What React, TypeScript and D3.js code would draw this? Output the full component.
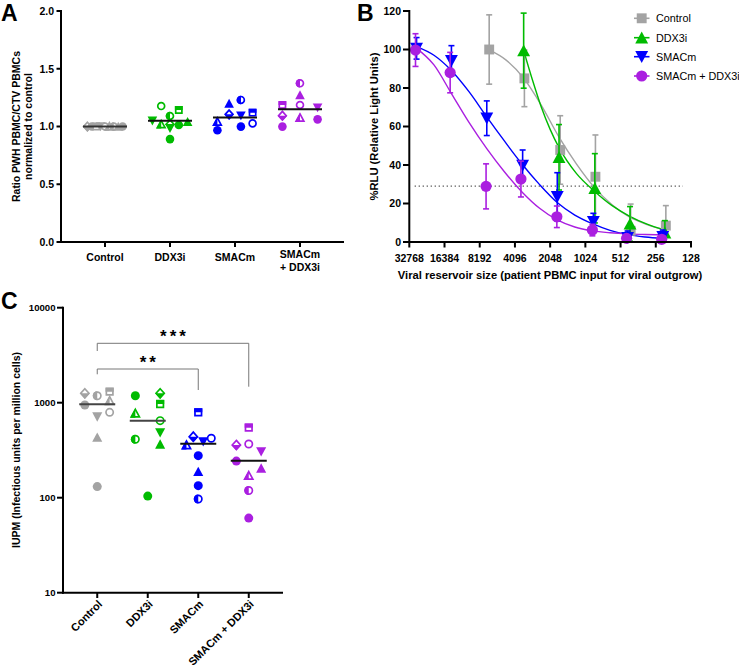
import React from "react";
import * as d3 from "d3";

const FONT = "'Liberation Sans', Arial, Helvetica, sans-serif";

const GRAY = "#a3a3a3";
const GREEN = "#00bb00";
const BLUE = "#0000ff";
const PURPLE = "#aa1fe0";
const GROUP_COLORS = [GRAY, GREEN, BLUE, PURPLE];

// ---------------- Panel A data ----------------
const groupsA = ["Control", "DDX3i", "SMACm", "SMACm\n+ DDX3i"];
const ticksA = [0, 0.5, 1.0, 1.5, 2.0];
// [value, marker kind, column]
type P = [number, string, number];
const ratioControl: P[] = [[1.0, "hd", -2], [1.0, "fc", -1.5], [1.0, "hs", -1], [1.0, "fv", -0.5], [1.0, "oc", 0], [1.0, "ht", 0.5], [1.0, "hc", 1], [1.0, "ft", 1.5], [1.0, "fc", 2]];
const ratioDDX3i: P[] = [[1.177, "oc", -1], [1.091, "hc", 0], [1.143, "hs", 1], [1.05, "fv", -2], [1.019, "ht", -1], [1.02, "hd", 0], [0.985, "fv", 0], [1.013, "fc", 1], [1.042, "ft", 2], [0.891, "fc", 0]];
const ratioSMACm: P[] = [[1.2, "ft", -0.67], [1.23, "hc", 0.67], [1.12, "hs", 2], [1.105, "hd", -0.67], [1.094, "fv", 0.67], [1.042, "ht", -2], [0.967, "fc", -2], [0.999, "fc", 0.67], [1.027, "oc", 2]];
const ratioCombo: P[] = [[1.374, "hc", 0], [1.273, "ft", 0], [1.186, "hs", -2], [1.186, "oc", 0], [1.163, "fv", 2], [1.094, "hd", -2], [1.076, "ht", 0], [0.999, "fc", -2], [1.062, "fc", 2]];
const ratioMedians = [1.0, 1.05, 1.079, 1.149];

// ---------------- Panel B data ----------------
const seriesB = ["Control", "DDX3i", "SMACm", "SMACm + DDX3i"];
const inputTicks = [32768, 16384, 8192, 4096, 2048, 1024, 512, 256, 128];
const rluTicks = [0, 20, 40, 60, 80, 100, 120];
const ctlInput = [6800, 3400, 1680, 840, 420, 210];
const ctlRLU = [100, 85, 47.8, 33.9, 5.8, 8.5];
const ctlSEM = [18, 14.7, 17.8, 21.7, 13.9, 10.4];
const ddxInput = [3450, 1720, 850, 425, 214];
const ddxRLU = [99.4, 44, 27.9, 9.4, 4.8];
const ddxSEM = [19.5, 17, 18, 9, 6.3];
const smacInput = [28400, 14300, 7130, 3520, 1780, 875, 446, 223];
const smacRLU = [100.6, 94.2, 64.3, 39.8, 23.5, 10.6, 2.2, 2.8];
const smacSEM = [5.6, 7.8, 9, 8, 12.5, 4.3, 3.5, 3.4];
const comboInput = [29000, 14660, 7230, 3640, 1795, 892, 455, 228];
const comboRLU = [99.7, 88, 28.9, 32.7, 13.1, 6.2, 1.9, 1.4];
const comboSEM = [8.5, 10.5, 11.7, 9.3, 5.6, 3, 1.5, 1];
// fitted curves
const ctlFitX = [6800, 4870, 3440, 2435, 1720, 1218, 861, 609, 431, 304, 212];
const ctlFitY = [99.8, 94.5, 85, 71, 54.5, 40.5, 28.5, 19.5, 13, 9, 6.2];
const ddxFitX = [3450, 2896, 2435, 2048, 1720, 1218, 861, 609, 431, 304, 214];
const ddxFitY = [99.5, 84, 70, 58.5, 49, 35.5, 26.5, 19, 13.5, 9.3, 6.2];
const smacFitX = [28400, 20170, 14260, 10085, 7130, 5043, 3566, 2521, 1783, 1261, 891, 630, 446, 315, 223];
const smacFitY = [101.5, 97, 89, 78, 65, 52.5, 40.5, 29.8, 20.5, 14, 9.5, 6, 3.8, 2.6, 1.9];
const comboFitX = [29000, 20170, 14260, 10085, 7130, 5043, 3566, 2521, 1783, 1261, 891, 630, 446, 315, 228];
const comboFitY = [101, 92, 77, 62, 48.5, 36.5, 26, 17.5, 11.5, 7.8, 5.8, 4.8, 4.2, 3.9, 3.8];
const thresholdRLU = 29;
const thresholdSpan = [29500, 150];

// ---------------- Panel C data ----------------
const groupsC = ["Control", "DDX3i", "SMACm", "SMACm + DDX3i"];
const iupmTicks = [10, 100, 1000, 10000];
const iupmControl: P[] = [[1256, "hd", -1], [1185, "hc", 0], [1306, "hs", 1], [946, "fc", -1], [1050, "ht", 1], [792, "oc", 1], [712, "fv", 0], [432, "ft", 0], [131, "fc", 0]];
const iupmDDX3i: P[] = [[1185, "fc", -1], [1256, "hd", 1], [969, "hs", 1], [773, "ht", -1], [647, "oc", 1], [412, "hc", -1], [484, "fv", 1], [365, "ft", 1], [104, "fc", 0]];
const iupmSMACm: P[] = [[792, "hs", 0], [439, "hd", -0.4], [359, "ht", -0.95], [389, "fv", 0.4], [422, "oc", 1.05], [277, "fc", 0], [188, "ft", 0], [134, "fc", 0], [97, "hc", 0]];
const iupmCombo: P[] = [[546, "hs", 0], [359, "hd", -1], [367, "oc", 0], [305, "fv", 1], [243, "fc", -1], [204, "ft", 1], [171, "ht", 0], [119, "hc", 0], [61, "fc", 0]];
const iupmMedians = [962, 647, 370, 245];
const sigComparisons: [number, number, string][] = [[0, 2, "**"], [0, 3, "***"]];

// ---------------- helpers ----------------
function polyPath(shp: string, S: number): string {
  if (shp === "s") {
    const h = S * 0.45;
    return `M${-h},${-h}H${h}V${h}H${-h}Z`;
  }
  if (shp === "t") {
    const w = S * 0.56, h = S * 0.52;
    return `M0,${-h * 1.05}L${w},${h * 0.95}L${-w},${h * 0.95}Z`;
  }
  if (shp === "v") {
    const w = S * 0.56, h = S * 0.52;
    return `M0,${h * 1.05}L${w},${-h * 0.95}L${-w},${-h * 0.95}Z`;
  }
  // diamond
  const w = S * 0.56, h = S * 0.62;
  return `M0,${-h}L${w},0L0,${h}L${-w},0Z`;
}

const CLIP: Record<string, string> = { c: "clipL", t: "clipL", v: "clipL", s: "clipT", d: "clipB" };

function Marker({ x, y, kind, color, S }: { x: number; y: number; kind: string; color: string; S: number }) {
  const mode = kind[0];
  const shp = kind[1];
  const sw = 1.7;
  const el = (sz: number, p: any) =>
    shp === "c" ? <circle r={sz / 2} {...p} /> : <path d={polyPath(shp, sz)} {...p} />;
  return (
    <g transform={`translate(${x},${y})`}>
      {mode === "f" && el(S, { fill: color })}
      {mode !== "f" && el(S - sw, { fill: "#fff", stroke: color, strokeWidth: sw })}
      {mode === "h" && el(S, { fill: color, clipPath: `url(#${CLIP[shp]})` })}
    </g>
  );
}

function BMarker({ x, y, shp, color }: { x: number; y: number; shp: string; color: string }) {
  if (shp === "c") return <circle cx={x} cy={y} r={5.6} fill={color} />;
  const S = shp === "s" ? 11 : 11.5;
  return <path transform={`translate(${x},${y})`} d={polyPath(shp, S)} fill={color} />;
}

export default function App() {
  // ---- Panel A scales
  const axA = d3.scalePoint<string>().domain(groupsA).range([61, 344]).padding(0.677);
  const ayA = d3.scaleLinear().domain([0, 2]).range([242, 11]);
  const groupsDataA = [ratioControl, ratioDDX3i, ratioSMACm, ratioCombo];
  const colA = 8.8;

  // ---- Panel B scales
  const bx = d3.scaleLog().base(2).domain([32768, 128]).range([409.3, 691]);
  const by = d3.scaleLinear().domain([0, 120]).range([242, 11]);
  const line = d3
    .line<[number, number]>()
    .x((d) => bx(d[0]))
    .y((d) => by(d[1]))
    .curve(d3.curveMonotoneX);
  const seriesData = [
    { name: seriesB[0], color: GRAY, shp: "s", xs: ctlInput, ys: ctlRLU, es: ctlSEM, fx: ctlFitX, fy: ctlFitY },
    { name: seriesB[1], color: GREEN, shp: "t", xs: ddxInput, ys: ddxRLU, es: ddxSEM, fx: ddxFitX, fy: ddxFitY },
    { name: seriesB[2], color: BLUE, shp: "v", xs: smacInput, ys: smacRLU, es: smacSEM, fx: smacFitX, fy: smacFitY },
    { name: seriesB[3], color: PURPLE, shp: "c", xs: comboInput, ys: comboRLU, es: comboSEM, fx: comboFitX, fy: comboFitY },
  ];

  // ---- Panel C scales
  const cx = d3.scalePoint<string>().domain(groupsC).range([63, 283]).padding(0.678);
  const cy = d3.scaleLog().domain([10, 10000]).range([592.7, 307.7]);
  const groupsDataC = [iupmControl, iupmDDX3i, iupmSMACm, iupmCombo];
  const colC = 12.4;

  const bold = { fontFamily: FONT, fontWeight: 700 as const };

  return (
    <div style={{ position: "absolute", left: 0, top: 0 }}>
      <svg width={739} height={668} style={{ display: "block", background: "#fff" }}>
        <defs>
          <clipPath id="clipL"><rect x={-50} y={-50} width={50} height={100} /></clipPath>
          <clipPath id="clipT"><rect x={-50} y={-50} width={100} height={50} /></clipPath>
          <clipPath id="clipB"><rect x={-50} y={0} width={100} height={50} /></clipPath>
        </defs>

        {/* ================= Panel A ================= */}
        <text x={1} y={21} fontSize={23} {...bold}>A</text>
        <g>
          {ticksA.map((t) => (
            <g key={t}>
              <line x1={56.5} x2={61} y1={ayA(t)} y2={ayA(t)} stroke="#000" strokeWidth={2} />
              <text x={54} y={ayA(t)} dy="0.36em" textAnchor="end" fontSize={10.5} {...bold}>
                {t.toFixed(1)}
              </text>
            </g>
          ))}
          {groupsA.map((g) => {
            const lines = g.split("\n");
            return (
              <g key={g}>
                <line x1={axA(g)} x2={axA(g)} y1={242} y2={247} stroke="#000" strokeWidth={2} />
                {lines.length === 1 ? (
                  <text x={axA(g)} y={260.5} textAnchor="middle" fontSize={10.5} {...bold}>{g}</text>
                ) : (
                  lines.map((l, i) => (
                    <text key={i} x={axA(g)} y={258 + i * 12.5} textAnchor="middle" fontSize={10.5} {...bold}>{l}</text>
                  ))
                )}
              </g>
            );
          })}
          {groupsDataA.map((pts, gi) =>
            pts.map((p, i) => (
              <Marker key={`${gi}-${i}`} x={(axA(groupsA[gi]) as number) + p[2] * colA} y={ayA(p[0])} kind={p[1]} color={GROUP_COLORS[gi]} S={8.6} />
            ))
          )}
          {ratioMedians.map((m, gi) => (
            <line key={gi} x1={(axA(groupsA[gi]) as number) - 22} x2={(axA(groupsA[gi]) as number) + 22} y1={ayA(m)} y2={ayA(m)} stroke={gi === 0 ? "#333" : "#111"} strokeWidth={2} />
          ))}
          <line x1={61} x2={61} y1={10} y2={243} stroke="#000" strokeWidth={2} />
          <line x1={60} x2={344} y1={242} y2={242} stroke="#000" strokeWidth={2} />
          <text transform={`translate(19.5,126.5) rotate(-90)`} textAnchor="middle" fontSize={10.5} {...bold}>
            Ratio PWH PBMC/CTV PBMCs
          </text>
          <text transform={`translate(31.5,126.5) rotate(-90)`} textAnchor="middle" fontSize={10.5} {...bold}>
            normalized to control
          </text>
        </g>

        {/* ================= Panel B ================= */}
        <text x={357} y={21} fontSize={23} {...bold}>B</text>
        <g>
          {rluTicks.map((t) => (
            <g key={t}>
              <line x1={403} x2={409.3} y1={by(t)} y2={by(t)} stroke="#000" strokeWidth={2} />
              <text x={405} y={by(t)} dx={-4} dy="0.36em" textAnchor="end" fontSize={10.5} {...bold}>{t}</text>
            </g>
          ))}
          {inputTicks.map((t) => (
            <g key={t}>
              <line x1={bx(t)} x2={bx(t)} y1={242} y2={247.5} stroke="#000" strokeWidth={2} />
              <text x={bx(t)} y={262} textAnchor="middle" fontSize={10.5} {...bold}>{t}</text>
            </g>
          ))}
          <line x1={bx(thresholdSpan[0])} x2={bx(thresholdSpan[1])} y1={by(thresholdRLU)} y2={by(thresholdRLU)} stroke="#555" strokeWidth={1.2} strokeDasharray="1.3 2.7" />
          {seriesData.map((s) => (
            <path key={s.name} d={line(s.fx.map((x, i) => [x, s.fy[i]] as [number, number])) || ""} fill="none" stroke={s.color} strokeWidth={1.4} />
          ))}
          {seriesData.map((s) => (
            <g key={s.name}>
              {s.xs.map((x, i) => {
                const X = bx(x);
                const top = by(s.ys[i] + s.es[i]);
                const bot = by(Math.max(0, s.ys[i] - s.es[i]));
                return (
                  <g key={i}>
                    <line x1={X} x2={X} y1={top} y2={bot} stroke={s.color} strokeWidth={1.6} />
                    <line x1={X - 3} x2={X + 3} y1={top} y2={top} stroke={s.color} strokeWidth={1.6} />
                    <line x1={X - 3} x2={X + 3} y1={bot} y2={bot} stroke={s.color} strokeWidth={1.6} />
                  </g>
                );
              })}
              {s.xs.map((x, i) => (
                <BMarker key={i} x={bx(x)} y={by(s.ys[i])} shp={s.shp} color={s.color} />
              ))}
            </g>
          ))}
          <line x1={409.3} x2={409.3} y1={10} y2={243} stroke="#000" strokeWidth={2} />
          <line x1={408.3} x2={692} y1={242} y2={242} stroke="#000" strokeWidth={2} />
          <text transform={`translate(377.5,126.5) rotate(-90)`} textAnchor="middle" fontSize={11.2} {...bold}>
            %RLU (Relative Light Units)
          </text>
          <text x={550} y={279} textAnchor="middle" fontSize={11.2} {...bold}>
            Viral reservoir size (patient PBMC input for viral outgrow)
          </text>
          {seriesData.map((s, i) => {
            const ly = [18.3, 37.7, 56.7, 76][i];
            return (
              <g key={s.name}>
                <line x1={634} x2={649.5} y1={ly} y2={ly} stroke={s.color} strokeWidth={1.6} />
                <BMarker x={641.7} y={ly} shp={s.shp} color={s.color} />
                <text x={656} y={ly} dy="0.36em" fontSize={10.8} fontFamily={FONT}>{s.name}</text>
              </g>
            );
          })}
        </g>

        {/* ================= Panel C ================= */}
        <text x={1} y={308.5} fontSize={23} {...bold}>C</text>
        <g>
          {iupmTicks.map((t) => (
            <g key={t}>
              <line x1={57} x2={63} y1={cy(t)} y2={cy(t)} stroke="#000" strokeWidth={2} />
              <text x={55.5} y={cy(t)} dy="0.36em" textAnchor="end" fontSize={9.6} {...bold}>{t}</text>
            </g>
          ))}
          {groupsC.map((g) => (
            <g key={g}>
              <line x1={cx(g)} x2={cx(g)} y1={592.7} y2={598} stroke="#000" strokeWidth={2} />
              <text transform={`translate(${(cx(g) as number) + 3},${602}) rotate(-45)`} dy="0.35em" textAnchor="end" fontSize={11} {...bold}>{g}</text>
            </g>
          ))}
          {groupsDataC.map((pts, gi) =>
            pts.map((p, i) => (
              <Marker key={`${gi}-${i}`} x={(cx(groupsC[gi]) as number) + p[2] * colC} y={cy(p[0])} kind={p[1]} color={GROUP_COLORS[gi]} S={9} />
            ))
          )}
          {iupmMedians.map((m, gi) => (
            <line key={gi} x1={(cx(groupsC[gi]) as number) - 18} x2={(cx(groupsC[gi]) as number) + 18} y1={cy(m)} y2={cy(m)} stroke={gi < 2 ? "#444" : "#111"} strokeWidth={2} />
          ))}
          {sigComparisons.map(([a, b, label], i) => {
            const xa = cx(groupsC[a]) as number;
            const xb = cx(groupsC[b]) as number;
            const yb = i === 0 ? 369 : 343.3;
            const la = i === 0 ? 374.3 : 351;
            const lb = i === 0 ? 390 : 386.7;
            return (
              <g key={label}>
                <path d={`M${xa},${la}V${yb}H${xb}V${lb}`} fill="none" stroke="#777" strokeWidth={1} />
                <text x={(xa + xb) / 2 + 1.5} y={yb - 1} textAnchor="middle" fontSize={17} letterSpacing={3} {...bold}>{label}</text>
              </g>
            );
          })}
          <line x1={63} x2={63} y1={306.7} y2={593.7} stroke="#000" strokeWidth={2} />
          <line x1={62} x2={283} y1={592.7} y2={592.7} stroke="#000" strokeWidth={2} />
          <text transform={`translate(20,450) rotate(-90)`} textAnchor="middle" fontSize={10.5} {...bold}>
            IUPM (Infectious units per million cells)
          </text>
        </g>
      </svg>
    </div>
  );
}
